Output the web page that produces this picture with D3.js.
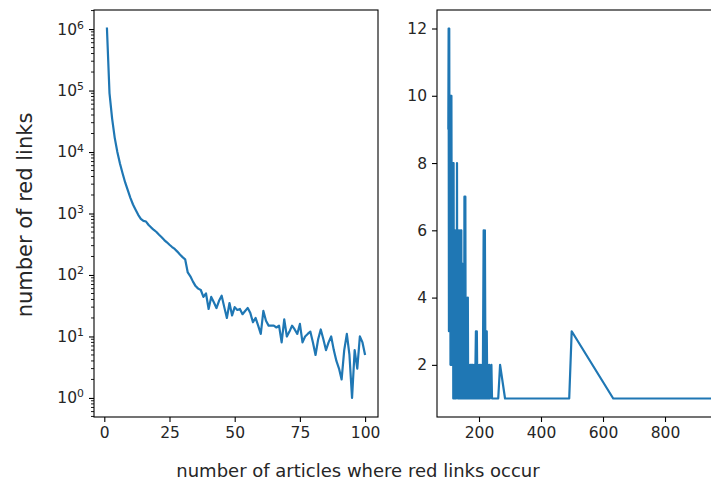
<!DOCTYPE html>
<html>
<head>
<meta charset="utf-8">
<script src="https://cdnjs.cloudflare.com/ajax/libs/d3/7.8.5/d3.min.js"></script>
<style>
  body { margin: 0; background: #fff; }
  text { font-family: "DejaVu Sans", sans-serif; fill: #262626; }
</style>
</head>
<body>
<svg id="chart" width="711" height="481"></svg>
<script>
// left panel: articles 1..100 -> number of red links (log scale)
const leftArticles = [1,2,3,4,5,6,7,8,9,10,11,12,13,14,15,16,17,18,19,20,
  21,22,23,24,25,26,27,28,29,30,31,32,33,34,35,36,37,38,39,40,
  41,42,43,44,45,46,47,48,49,50,51,52,53,54,55,56,57,58,59,60,
  61,62,63,64,65,66,67,68,69,70,71,72,73,74,75,76,77,78,79,80,
  81,82,83,84,85,86,87,88,89,90,91,92,93,94,95,96,97,98,99,100];
const leftCounts = [1060000,90000,35000,17000,10000,6500,4500,3200,2400,1800,
  1400,1150,950,820,760,740,650,590,540,500,
  450,410,370,340,310,285,265,240,215,195,
  180,110,95,78,66,60,57,44,50,28,
  44,36,29,38,46,30,20,35,22,30,
  27,28,23,26,29,24,17,20,15,11,
  26,18,15,15,15,14,15,8,19,10,
  12,15,13,11,16,8,10,11,12,8,
  5,9,13,9,6,8,10,6,4,3,
  2,6,11,5,1,6,3,10,8,5];

// right panel: articles > 100
const rightArticles = [101,102,103,104,105,106,107,108,109,110,
  111,112,113,114,115,116,117,118,119,120,
  121,122,123,124,125,126,127,128,129,130,
  131,132,133,134,135,136,137,138,139,140,
  141,142,143,144,145,146,147,148,149,150,
  151,152,153,154,155,156,157,158,159,160,
  161,162,163,164,165,166,167,168,170,171,
  172,174,175,177,178,180,182,185,187,190,
  191,193,195,197,199,202,204,206,208,211,
  212,215,217,219,221,222,224,225,227,228,
  230,233,235,240,242,250,262,268,284,491,
  499,633,960];
const rightCounts = [9,12,3,12,6,3,10,2,10,2,
  10,5,2,8,3,8,1,8,2,6,
  1,4,6,2,4,1,6,2,8,2,
  6,1,4,2,6,1,3,2,6,1,
  4,2,6,1,3,2,5,1,2,4,
  1,2,7,1,3,7,1,4,2,4,
  1,2,1,4,1,2,1,2,1,2,
  1,2,1,2,1,2,1,2,1,3,
  1,3,1,2,1,2,1,2,1,2,
  1,6,1,6,1,3,1,3,1,2,
  1,2,1,2,1,1,1,2,1,1,
  3,1,1];

const leftXTicks = [0, 25, 50, 75, 100];
const leftYTicks = [1, 10, 100, 1000, 10000, 100000, 1000000];
const rightXTicks = [200, 400, 600, 800];
const rightYTicks = [2, 4, 6, 8, 10, 12];

const svg = d3.select("#chart");
const blue = "#1f77b4";
const plotTop = 10, plotBottom = 417;

// ---------- left panel ----------
const lx = d3.scaleLinear().domain([-3.95, 104.95]).range([94, 378]);
const ly = d3.scaleLog().domain([Math.pow(10, -0.31), Math.pow(10, 6.31)]).range([plotBottom, plotTop]);

const gl = svg.append("g");

gl.append("path")
  .datum(leftArticles.map((a, i) => [a, leftCounts[i]]))
  .attr("fill", "none")
  .attr("stroke", blue)
  .attr("stroke-width", 2.2)
  .attr("stroke-linejoin", "round")
  .attr("d", d3.line().x(d => lx(d[0])).y(d => ly(d[1])));

gl.append("g")
  .attr("transform", `translate(0,${plotBottom})`)
  .call(d3.axisBottom(lx).tickValues(leftXTicks).tickSize(5).tickPadding(5).tickSizeOuter(0))
  .call(g => g.select(".domain").remove());

// minor log ticks
const minor = [];
for (let e = -1; e <= 6; e++) {
  for (let m = 2; m <= 9; m++) {
    const v = m * Math.pow(10, e);
    if (v > ly.domain()[0] && v < ly.domain()[1]) minor.push(v);
  }
}
gl.append("g").selectAll("line").data(minor).enter().append("line")
  .attr("x1", 94).attr("x2", 91)
  .attr("y1", d => ly(d)).attr("y2", d => ly(d))
  .attr("stroke", "#000").attr("stroke-width", 0.9);

const gly = gl.append("g")
  .attr("transform", "translate(94,0)")
  .call(d3.axisLeft(ly).tickValues(leftYTicks).tickSize(5).tickPadding(5).tickSizeOuter(0))
  .call(g => g.select(".domain").remove());
gly.selectAll(".tick text").each(function(d) {
  const t = d3.select(this);
  t.text(null);
  t.append("tspan").text("10");
  t.append("tspan").attr("dy", "-0.55em").attr("font-size", "0.7em").text(Math.round(Math.log10(d)));
});

gl.append("rect")
  .attr("x", 94).attr("y", plotTop).attr("width", 378 - 94).attr("height", plotBottom - plotTop)
  .attr("fill", "none").attr("stroke", "#000").attr("stroke-width", 1.1);

// ---------- right panel ----------
const rx = d3.scaleLinear().domain([64.5, 977.4]).range([437, 720]);
const ry = d3.scaleLinear().domain([0.45, 12.55]).range([plotBottom, plotTop]);

const gr = svg.append("g");

gr.append("path")
  .datum(rightArticles.map((a, i) => [a, rightCounts[i]]))
  .attr("fill", "none")
  .attr("stroke", blue)
  .attr("stroke-width", 2.2)
  .attr("stroke-linejoin", "round")
  .attr("d", d3.line().x(d => rx(d[0])).y(d => ry(d[1])));

gr.append("g")
  .attr("transform", `translate(0,${plotBottom})`)
  .call(d3.axisBottom(rx).tickValues(rightXTicks).tickSize(5).tickPadding(5).tickSizeOuter(0))
  .call(g => g.select(".domain").remove());

gr.append("g")
  .attr("transform", "translate(437,0)")
  .call(d3.axisLeft(ry).tickValues(rightYTicks).tickSize(5).tickPadding(5).tickSizeOuter(0))
  .call(g => g.select(".domain").remove());

gr.append("rect")
  .attr("x", 437).attr("y", plotTop).attr("width", 720 - 437).attr("height", plotBottom - plotTop)
  .attr("fill", "none").attr("stroke", "#000").attr("stroke-width", 1.1);

// shared tick styling
svg.selectAll(".tick line").attr("stroke", "#000").attr("stroke-width", 1.1);
svg.selectAll(".tick text").attr("font-size", 15.5).attr("fill", "#262626")
  .style("font-family", "'DejaVu Sans', sans-serif");

// axis labels
svg.append("text")
  .attr("x", 358).attr("y", 477)
  .attr("text-anchor", "middle")
  .attr("font-size", 18)
  .text("number of articles where red links occur");

svg.append("text")
  .attr("transform", "translate(32,215) rotate(-90)")
  .attr("text-anchor", "middle")
  .attr("font-size", 21)
  .text("number of red links");
</script>
</body>
</html>
